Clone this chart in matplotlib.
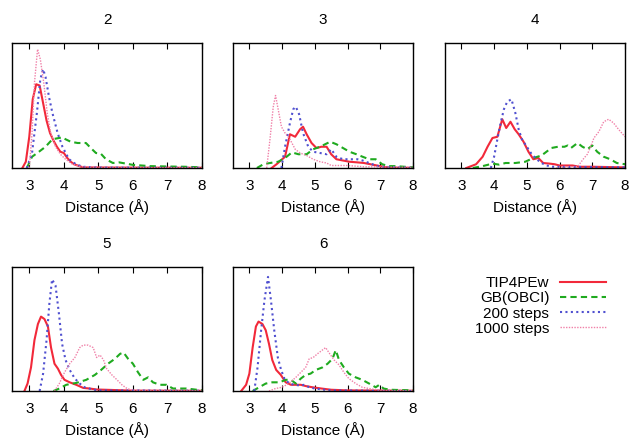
import matplotlib
matplotlib.use("Agg")
import matplotlib.pyplot as plt

plt.rcParams['font.family'] = ['Liberation Sans', 'DejaVu Sans']

labels = ['TIP4PEw', 'GB(OBCI)', '200 steps', '1000 steps']
titles = ['2', '3', '4', '5', '6']
xticks = [3, 4, 5, 6, 7, 8]

# ---- panel "2" ----
x2_tip = [2.8, 2.9, 3.0, 3.1, 3.2, 3.3, 3.4, 3.5, 3.6, 3.7, 3.8, 3.9, 4.0, 4.1, 4.2, 4.3, 4.4, 4.5, 4.6, 5.0, 6.0, 8.0]
y2_tip = [0.0, 0.05, 0.25, 0.55, 0.67, 0.66, 0.52, 0.38, 0.28, 0.22, 0.17, 0.13, 0.12, 0.08, 0.05, 0.03, 0.02, 0.01, 0.005, 0.004, 0.003, 0.002]
x2_gb = [2.93, 3.08, 3.28, 3.47, 3.67, 3.86, 3.96, 4.05, 4.2, 4.4, 4.64, 4.78, 4.93, 5.07, 5.22, 5.42, 5.6, 5.8, 6.0, 6.5, 7.0, 7.5, 8.0]
y2_gb = [0.0, 0.09, 0.13, 0.17, 0.23, 0.24, 0.245, 0.23, 0.21, 0.2, 0.2, 0.16, 0.12, 0.115, 0.07, 0.04, 0.045, 0.035, 0.025, 0.015, 0.012, 0.01, 0.005]
x2_200 = [2.93, 3.08, 3.22, 3.32, 3.4, 3.47, 3.57, 3.67, 3.82, 3.96, 4.15, 4.35, 4.55, 5.0, 8.0]
y2_200 = [0.0, 0.12, 0.44, 0.71, 0.79, 0.73, 0.57, 0.44, 0.28, 0.17, 0.07, 0.03, 0.01, 0.003, 0.002]
x2_1000 = [3.0, 3.08, 3.15, 3.24, 3.32, 3.42, 3.52, 3.62, 3.76, 3.9, 4.05, 4.25, 4.5, 5.0, 8.0]
y2_1000 = [0.0, 0.28, 0.68, 0.95, 0.87, 0.68, 0.44, 0.28, 0.17, 0.11, 0.07, 0.03, 0.01, 0.004, 0.002]

# ---- panel "3" ----
x3_tip = [3.68, 3.83, 4.09, 4.24, 4.4, 4.55, 4.64, 4.75, 4.9, 5.05, 5.2, 5.36, 5.5, 5.66, 5.86, 6.06, 6.3, 6.5, 6.7, 6.9, 7.1, 7.3, 8.0]
y3_tip = [0.0, 0.03, 0.09, 0.27, 0.25, 0.31, 0.33, 0.27, 0.2, 0.16, 0.17, 0.17, 0.11, 0.07, 0.06, 0.05, 0.045, 0.04, 0.03, 0.02, 0.01, 0.003, 0.002]
x3_gb = [3.23, 3.43, 3.63, 3.88, 4.09, 4.3, 4.5, 4.75, 4.95, 5.16, 5.47, 5.66, 5.86, 6.06, 6.27, 6.46, 6.66, 6.86, 7.06, 7.26, 7.46, 8.0]
y3_gb = [0.0, 0.03, 0.04, 0.05, 0.08, 0.125, 0.11, 0.11, 0.15, 0.17, 0.21, 0.19, 0.16, 0.13, 0.11, 0.09, 0.07, 0.07, 0.03, 0.015, 0.015, 0.005]
x3_200 = [3.98, 4.09, 4.24, 4.34, 4.42, 4.52, 4.64, 4.8, 4.95, 5.16, 5.36, 5.5, 5.66, 5.86, 6.06, 6.3, 6.46, 6.66, 6.86, 7.0, 8.0]
y3_200 = [0.0, 0.17, 0.36, 0.47, 0.49, 0.43, 0.28, 0.17, 0.13, 0.12, 0.11, 0.15, 0.09, 0.07, 0.07, 0.07, 0.06, 0.04, 0.02, 0.01, 0.002]
x3_1000 = [3.53, 3.63, 3.73, 3.8, 3.88, 3.98, 4.09, 4.24, 4.4, 4.55, 4.75, 4.95, 5.16, 5.36, 5.5, 6.0, 6.5, 8.0]
y3_1000 = [0.0, 0.23, 0.49, 0.58, 0.47, 0.33, 0.28, 0.23, 0.15, 0.12, 0.1, 0.07, 0.05, 0.04, 0.02, 0.02, 0.01, 0.005]

# ---- panel "4" ----
x4_tip = [3.15, 3.45, 3.65, 3.8, 3.95, 4.1, 4.25, 4.37, 4.5, 4.63, 4.75, 4.9, 5.05, 5.2, 5.35, 5.5, 5.7, 5.85, 6.0, 6.4, 6.6, 7.0, 8.0]
y4_tip = [0.0, 0.03, 0.09, 0.17, 0.24, 0.25, 0.39, 0.32, 0.37, 0.31, 0.27, 0.21, 0.13, 0.07, 0.08, 0.04, 0.035, 0.03, 0.02, 0.02, 0.01, 0.01, 0.005]
x4_gb = [3.35, 3.65, 3.95, 4.15, 4.35, 4.65, 4.95, 5.2, 5.45, 5.6, 5.75, 5.95, 6.15, 6.25, 6.35, 6.55, 6.7, 6.85, 7.0, 7.15, 7.35, 7.55, 7.75, 8.0]
y4_gb = [0.0, 0.015, 0.035, 0.027, 0.04, 0.04, 0.05, 0.08, 0.1, 0.13, 0.16, 0.17, 0.17, 0.18, 0.16, 0.2, 0.17, 0.15, 0.18, 0.13, 0.09, 0.07, 0.04, 0.03]
x4_200 = [3.9, 4.0, 4.1, 4.2, 4.3, 4.4, 4.53, 4.65, 4.75, 4.85, 5.0, 5.15, 5.3, 5.45, 5.6, 5.8, 8.0]
y4_200 = [0.0, 0.09, 0.23, 0.36, 0.47, 0.53, 0.55, 0.44, 0.31, 0.23, 0.17, 0.11, 0.07, 0.04, 0.02, 0.01, 0.005]
x4_1000 = [5.9, 6.2, 6.55, 6.75, 6.85, 6.95, 7.05, 7.2, 7.35, 7.5, 7.65, 7.8, 8.0]
y4_1000 = [0.0, 0.01, 0.01, 0.08, 0.11, 0.17, 0.24, 0.29, 0.37, 0.39, 0.36, 0.31, 0.25]

# ---- panel "5" ----
x5_tip = [2.86, 2.95, 3.05, 3.15, 3.25, 3.34, 3.44, 3.54, 3.63, 3.73, 3.83, 3.92, 4.02, 4.17, 4.36, 4.56, 4.75, 4.95, 5.2, 6.0, 8.0]
y5_tip = [0.0, 0.06, 0.19, 0.41, 0.54, 0.6, 0.58, 0.52, 0.35, 0.22, 0.18, 0.13, 0.09, 0.07, 0.05, 0.025, 0.02, 0.012, 0.01, 0.003, 0.002]
x5_gb = [3.7, 3.87, 4.07, 4.36, 4.65, 4.9, 5.08, 5.28, 5.48, 5.63, 5.73, 5.86, 6.0, 6.15, 6.3, 6.44, 6.58, 6.78, 6.97, 7.16, 7.36, 7.55, 8.0]
y5_gb = [0.0, 0.02, 0.05, 0.065, 0.09, 0.13, 0.17, 0.22, 0.26, 0.3, 0.31, 0.26, 0.22, 0.15, 0.09, 0.11, 0.07, 0.05, 0.05, 0.02, 0.02, 0.02, 0.005]
x5_200 = [3.3, 3.4, 3.5, 3.58, 3.66, 3.76, 3.86, 3.95, 4.05, 4.17, 4.32, 4.46, 4.6, 4.8, 5.0, 8.0]
y5_200 = [0.0, 0.14, 0.41, 0.7, 0.9, 0.85, 0.62, 0.38, 0.25, 0.17, 0.1, 0.06, 0.03, 0.015, 0.005, 0.002]
x5_1000 = [3.73, 3.87, 4.02, 4.17, 4.32, 4.46, 4.56, 4.7, 4.85, 4.95, 5.05, 5.15, 5.24, 5.39, 5.54, 5.68, 5.83, 6.0, 8.0]
y5_1000 = [0.0, 0.06, 0.15, 0.22, 0.27, 0.35, 0.37, 0.37, 0.35, 0.27, 0.29, 0.25, 0.18, 0.13, 0.09, 0.05, 0.02, 0.005, 0.002]

# ---- panel "6" ----
x6_tip = [2.75, 2.9, 3.0, 3.1, 3.2, 3.28, 3.4, 3.5, 3.6, 3.7, 3.82, 3.96, 4.11, 4.27, 4.42, 4.57, 4.72, 4.93, 5.2, 5.5, 6.0, 8.0]
y6_tip = [0.0, 0.05, 0.14, 0.35, 0.52, 0.56, 0.54, 0.49, 0.38, 0.25, 0.17, 0.13, 0.07, 0.05, 0.05, 0.05, 0.04, 0.03, 0.02, 0.01, 0.005, 0.002]
x6_gb = [3.1, 3.3, 3.5, 3.7, 3.92, 4.11, 4.27, 4.42, 4.57, 4.72, 4.87, 5.03, 5.23, 5.39, 5.54, 5.64, 5.74, 5.89, 6.04, 6.25, 6.45, 6.66, 6.86, 6.97, 7.1, 7.3, 8.0]
y6_gb = [0.0, 0.03, 0.06, 0.07, 0.07, 0.09, 0.09, 0.06, 0.1, 0.13, 0.14, 0.17, 0.19, 0.22, 0.26, 0.33, 0.25, 0.19, 0.14, 0.11, 0.09, 0.06, 0.03, 0.05, 0.02, 0.01, 0.005]
x6_200 = [3.15, 3.25, 3.36, 3.46, 3.57, 3.66, 3.76, 3.87, 3.97, 4.07, 4.22, 4.38, 4.53, 4.68, 4.83, 5.0, 5.3, 5.6, 8.0]
y6_200 = [0.0, 0.19, 0.49, 0.73, 0.92, 0.73, 0.49, 0.27, 0.17, 0.1, 0.06, 0.05, 0.045, 0.05, 0.03, 0.02, 0.01, 0.005, 0.0]
x6_1000 = [3.6, 3.8, 4.0, 4.2, 4.42, 4.57, 4.72, 4.83, 4.95, 5.08, 5.23, 5.33, 5.43, 5.59, 5.74, 5.89, 6.04, 6.25, 6.45, 6.66, 7.0, 8.0]
y6_1000 = [0.0, 0.02, 0.03, 0.06, 0.11, 0.15, 0.19, 0.26, 0.27, 0.3, 0.33, 0.35, 0.31, 0.25, 0.21, 0.15, 0.1, 0.06, 0.03, 0.02, 0.005, 0.002]

panels = [
    [(x2_tip, y2_tip), (x2_gb, y2_gb), (x2_200, y2_200), (x2_1000, y2_1000)],
    [(x3_tip, y3_tip), (x3_gb, y3_gb), (x3_200, y3_200), (x3_1000, y3_1000)],
    [(x4_tip, y4_tip), (x4_gb, y4_gb), (x4_200, y4_200), (x4_1000, y4_1000)],
    [(x5_tip, y5_tip), (x5_gb, y5_gb), (x5_200, y5_200), (x5_1000, y5_1000)],
    [(x6_tip, y6_tip), (x6_gb, y6_gb), (x6_200, y6_200), (x6_1000, y6_1000)],
]

# line styles, gnuplot-ish
styles = [
    dict(color='#f2293a', lw=1.5, ls='-'),
    dict(color='#1faa1f', lw=1.5, ls=(0, (3, 2))),
    dict(color='#5050d0', lw=1.5, ls=(0, (1, 1.6))),
    dict(color='#f080a8', lw=1.0, ls=(0, (1, 1))),
]

W, H = 633, 438
fig = plt.figure(figsize=(W / 100, H / 100), dpi=100)

# axes boxes in pixels: left, top, right, bottom
boxes = [(12, 43, 202, 168), (233, 43, 413, 168), (445, 43, 625, 168),
         (12, 267, 202, 391), (233, 267, 413, 391)]

lines = []
for i, (l, t, r, b) in enumerate(boxes):
    ax = fig.add_axes([l / W, 1 - b / H, (r - l) / W, (b - t) / H])
    for j, (xs, ys) in enumerate(panels[i]):
        ln, = ax.plot(xs, ys, **styles[j])
        if i == 0:
            lines.append(ln)
    ax.set_xlim(2.5, 8)
    ax.set_ylim(0, 1.0)
    ax.set_xticks(xticks)
    ax.set_yticks([])
    ax.tick_params(axis='x', direction='in', top=True, length=4, labelsize=11, pad=8)
    ax.set_xlabel('Distance (Å)', fontsize=11, labelpad=4)
    ax.set_title(titles[i], fontsize=11, pad=14)
    for s in ax.spines.values():
        s.set_linewidth(1.0)

fig.legend(lines, labels, loc='upper right', bbox_to_anchor=(612 / W, 1 - 270 / H),
           markerfirst=False, frameon=False, fontsize=11, handlelength=3.0,
           labelspacing=0.08, handletextpad=0.7, borderaxespad=0)

fig.savefig('out.png', dpi=100)
